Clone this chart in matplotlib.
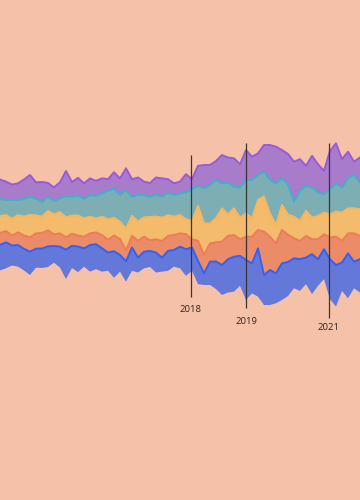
import numpy as np
import matplotlib.pyplot as plt

# layer thickness per sample (bottom -> top)
blue = [25.7, 26, 20, 21.6, 21.7, 23.3, 19, 19.4, 20.7, 16.6, 21, 29.3, 22.2,
        25.7, 18.3, 26.6, 25, 23.4, 18.3, 26.6, 16.7, 20.3, 23.3, 15, 16.7,
        16, 20, 14, 20, 16.7, 21.7, 26.7, 23.4, 23.3, 11.7, 23.3, 27.5,
        30, 33.3, 35, 30, 40, 30, 48.3, 30, 35, 30, 36.7, 34,
        30, 31.7, 26.6, 40, 26.6, 30, 40, 41.6, 28.3, 45, 26.7, 33.3]
coral = [12, 11.3, 10, 12.7, 13.3, 14.4, 15.3, 15.6, 16, 11.7, 13.3, 12.4, 12.1,
         11, 11.7, 11.7, 11.7, 13.3, 12.7, 15.7, 16, 11, 11.7, 16.7, 15,
         10.7, 13.3, 16.7, 15, 15, 13.3, 15, 8.3, 20, 18.3, 18.3, 19.2,
         23.4, 23.4, 21.6, 16.6, 23.3, 26.7, 18.4, 43.4, 33.3, 30, 33.3, 27.3,
         20, 18.3, 21.7, 15, 20, 15, 21.7, 28.4, 21.7, 20, 28.3, 23.4]
yellow = [16.7, 16, 16.7, 17.3, 19, 22.3, 18, 16.4, 19.3, 20, 21.3, 20, 18.2,
          20, 18.3, 16.7, 14, 18.3, 20.6, 17.7, 17.3, 22, 20, 19.3, 19.3,
          23.3, 22.7, 23.3, 20.7, 18.3, 18.4, 15, 18.3, 35, 31.7, 20, 24.3,
          33.3, 21.6, 26.7, 21.7, 23.3, 18.3, 30, 35, 23.4, 18.3, 25, 20,
          21.6, 20, 25, 21.7, 23.4, 21.7, 23.3, 25, 28.3, 25, 25, 26.6]
teal = [17.3, 15, 19, 15, 17.7, 18.3, 16.7, 14.6, 14, 13.3, 13.4, 21, 18.5,
        20, 19.3, 21.6, 22.6, 23.4, 28.4, 29, 26.7, 38.3, 19, 26.7, 22.3,
        20, 22.3, 21, 22, 21.7, 21.6, 26.7, 31.7, 20, 35, 38.4, 38,
        25, 31.7, 21.7, 30, 33.4, 38.4, 25, 25, 33.3, 41.7, 26.7, 30,
        15, 30, 25, 30, 23.3, 18.3, 25, 28.3, 25, 30, 33.3, 26.7]
purple = [19.3, 18.4, 15.3, 16.7, 19.3, 21.7, 16.3, 20, 14, 13.7, 16.3, 25.3, 15,
          17.6, 15.7, 16.7, 15, 15, 11.6, 16.6, 16.6, 21.7, 17.6, 17.3, 13.4,
          14, 16.7, 18.3, 14, 11.6, 11.7, 18.3, 10, 20, 23.3, 20, 19,
          28.3, 25, 28.3, 23.3, 30, 23.3, 21.6, 26.6, 35, 36.6, 28.3, 30.7,
          40, 31.7, 20, 31.6, 28.3, 23.4, 38.3, 40, 28.4, 26.6, 13.4, 25]

years = ["2018", "2019", "2021"]
year_pos = [31.8, 41.0, 54.8]

fills = ["#6478DA", "#EC8B68", "#F4BB6C", "#7CAEB4", "#A97BCB"]
edges = ["#3461F0", "#EE7C58", "#F6B65E", "#3FB2CA", "#985BDA"]

bg = "#F6C1A9"
fig = plt.figure(figsize=(3.6, 5), dpi=100, facecolor=bg)
ax = fig.add_axes([0, 0, 1, 1])
ax.set_facecolor(bg)

layers = [blue, coral, yellow, teal, purple]
x = np.arange(len(blue))
ax.stackplot(x, *layers, baseline="sym", colors=fills, linewidth=0)

# top edge of every layer
data = np.array(layers)
base = -data.sum(axis=0) / 2
tops = base + np.cumsum(data, axis=0)
for top, c in zip(tops, edges):
    ax.plot(x, top, color=c, lw=1.4, solid_joinstyle="round")

# year markers
line_ext = [(-72, 70), (-83, 82), (-93, 82)]
label_y = [-85, -97, -103]
for pos, yr, (lo, hi), ly in zip(year_pos, years, line_ext, label_y):
    ax.vlines(pos, lo, hi, color="#3a3330", lw=0.9, zorder=5)
    ax.text(pos, ly, yr, ha="center", va="center", fontsize=6.8,
            color="#2b2522", family="Open Sans")

ax.set_xlim(0, 60)
ax.set_ylim(-275, 225)
ax.axis("off")

fig.savefig("out.png", dpi=100, facecolor=bg)
